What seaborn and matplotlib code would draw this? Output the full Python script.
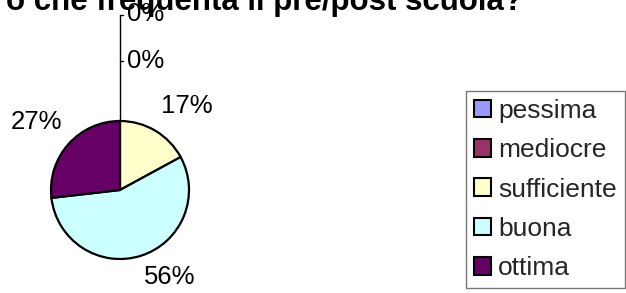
import matplotlib
matplotlib.use("Agg")
import matplotlib.pyplot as plt
import seaborn as sns
from matplotlib.patches import Patch

sns.set_theme(style="white")
plt.rcParams['font.family'] = ['Liberation Sans', 'DejaVu Sans']

# Data
categories = ["pessima", "mediocre", "sufficiente", "buona", "ottima"]
values = [0, 0, 7, 23, 11]
colors = ["#9999FF", "#993366", "#FFFFCC", "#CCFFFF", "#660066"]
title_visible = "o che frequenta il pre/post scuola?"

W, H = 626, 293
fig = plt.figure(figsize=(W / 100, H / 100), dpi=100)
fig.patch.set_facecolor("white")

cx, cy, r = 120, 190, 69
ax = fig.add_axes([(cx - r) / W, (H - cy - r) / H, 2 * r / W, 2 * r / H])
wedges, _ = ax.pie(values, colors=colors, startangle=90, counterclock=False,
                   radius=1, wedgeprops=dict(edgecolor="black", linewidth=1.6))
ax.set_xlim(-1, 1)
ax.set_ylim(-1, 1)
ax.axis("off")

total = sum(values)
pcts = [f"{round(v / total * 100)}%" for v in values]

def px2d(px, py):
    return (px - cx) / r, (cy - py) / r

label_px = [(146, 14), (146, 61), (187, 106), (170, 277), (37, 122)]
for txt, (px, py) in zip(pcts, label_px):
    x, y = px2d(px, py)
    ax.text(x, y, txt, ha="center", va="center", fontsize=18.5, color="black", clip_on=False)

# leader line for zero slices
x0, ytop = px2d(120, 15)
_, ymid = px2d(120, 61)
ax.plot([0, 0], [1, ytop], color="black", lw=1, clip_on=False)
ax.plot([0, 0.05], [ytop, ytop], color="black", lw=1, clip_on=False)
ax.plot([0, 0.05], [ymid, ymid], color="black", lw=1, clip_on=False)

# title (cut off in original)
fig.text(523 / W, 1 - 10 / H, title_visible, ha="right", va="baseline",
         fontsize=22.5, fontweight="bold", color="black")

handles = [Patch(facecolor=c, edgecolor="black", linewidth=1.5) for c in colors]
leg = fig.legend(handles, categories, loc="upper left",
                 bbox_to_anchor=(466 / W, 1 - 91 / H),
                 frameon=True, fancybox=False, fontsize=19, handlelength=0.65,
                 handleheight=0.65, handletextpad=0.27, labelspacing=0.58,
                 borderaxespad=0, borderpad=0.3)
leg.get_frame().set_edgecolor("#555555")
leg.get_frame().set_linewidth(1)

fig.savefig("out.png", dpi=100, facecolor="white")
